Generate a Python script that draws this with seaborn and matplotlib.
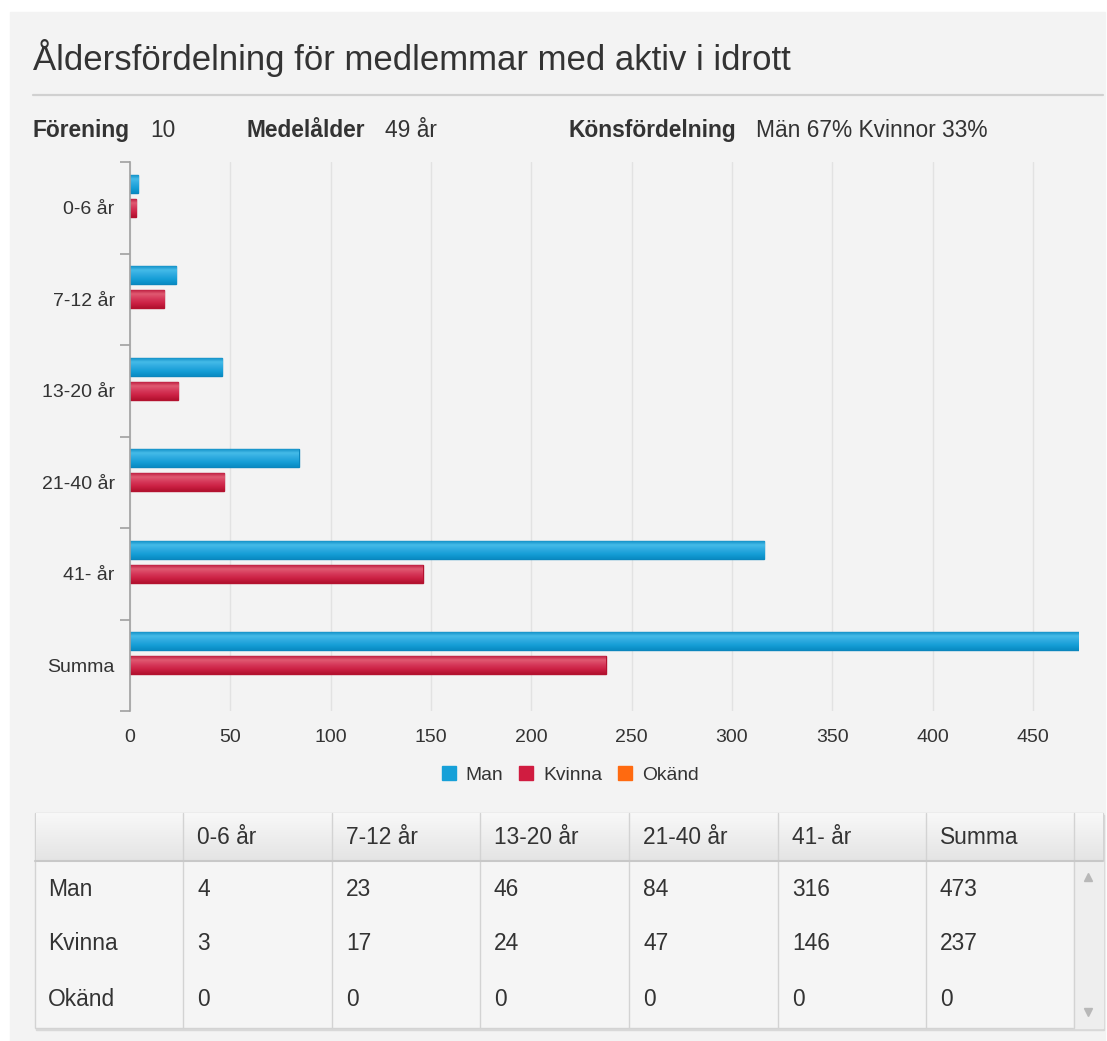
import numpy as np
import pandas as pd
import matplotlib
matplotlib.use('Agg')
import matplotlib.pyplot as plt
from matplotlib.patches import Rectangle
from matplotlib.colors import LinearSegmentedColormap
import seaborn as sns

# chart data
categories = ['0-6 år', '7-12 år', '13-20 år', '21-40 år', '41- år', 'Summa']
genders = ['Man', 'Kvinna', 'Okänd']
man = [4, 23, 46, 84, 316, 473]
kvinna = [3, 17, 24, 47, 146, 237]
okand = [0, 0, 0, 0, 0, 0]
x_ticks = [0, 50, 100, 150, 200, 250, 300, 350, 400, 450]

title = 'Åldersfördelning för medlemmar med aktiv i idrott'
info_labels = ['Förening', 'Medelålder', 'Könsfördelning']
info_values = ['10', '49 år', 'Män 67% Kvinnor 33%']

colors = {'Man': '#16a0d8', 'Kvinna': '#d01c40', 'Okänd': '#ff6a10'}
edges = {'Man': '#0b86bd', 'Kvinna': '#b3122f', 'Okänd': '#d95500'}
# vertical shading of the bars (top -> bottom)
shades = {
    'Man': ['#0b8ac2', '#45bbe8', '#2eaae0', '#159ed6', '#0a8cc4'],
    'Kvinna': ['#b9163a', '#e05a72', '#d6395a', '#cc2144', '#b3122f'],
    'Okänd': ['#d95500', '#ff8a40', '#ff6a10', '#f06000', '#d95500'],
}
text_color = '#333333'

W, H = 1107, 1041

df = pd.DataFrame({
    'Åldersgrupp': categories * len(genders),
    'Kön': np.repeat(genders, len(categories)),
    'Antal': man + kvinna + okand,
})

sns.set_theme(style='white')
plt.rcParams['font.family'] = ['Liberation Sans', 'DejaVu Sans']

fig = plt.figure(figsize=(W / 100, H / 100), dpi=100)
fig.patch.set_facecolor('white')

# background layer in pixel coordinates (panel, title, info row, table)
bg = fig.add_axes([0, 0, 1, 1], zorder=0)
bg.axis('off')
bg.add_patch(Rectangle((10, 12), W - 12, H, color='#f3f3f3', zorder=0))

bg.text(33, 70, title, fontsize=25, color=text_color, va='baseline')
bg.plot([33, 1103], [95, 95], color='#d0d0d0', lw=1.6)

label_x = [33, 247, 569]
value_x = [150, 385, 756]
for lx, vx, lab, val in zip(label_x, value_x, info_labels, info_values):
    bg.text(lx, 137, lab, fontsize=16.4, fontweight='bold', color=text_color, va='baseline')
    bg.text(vx, 137, val, fontsize=16.4, color=text_color, va='baseline')

# table
col_edges = [35, 183, 332, 480, 629, 778, 926, 1074, 1103]
t_top, t_head, t_bot = 813, 861, 1028
t_left, t_right = col_edges[0], col_edges[-1]
bg.add_patch(Rectangle((t_left + 1, t_top + 2), t_right - t_left, t_bot - t_top,
                       color='#d8d8d8', zorder=1))
bg.add_patch(Rectangle((t_left, t_top), t_right - t_left, t_bot - t_top,
                       fc='#f5f5f5', ec='#d3d3d3', lw=1, zorder=2))
head_cmap = LinearSegmentedColormap.from_list('head', ['#f8f8f8', '#e4e4e4'])
bg.imshow(np.linspace(0, 1, 50).reshape(-1, 1), cmap=head_cmap, aspect='auto',
          extent=(t_left + 0.5, t_right - 0.5, t_head, t_top + 0.5), zorder=3)
bg.add_patch(Rectangle((col_edges[-2], t_head), t_right - col_edges[-2] - 0.5,
                       t_bot - t_head - 0.5, color='#eeeeee', zorder=3))
for x in col_edges[1:-1]:
    bg.plot([x, x], [t_top, t_bot], color='#d3d3d3', lw=1, zorder=4)
bg.plot([t_left, t_right], [t_head, t_head], color='#c8c8c8', lw=1.5, zorder=4)
bg.plot(1088, 877, marker='^', ms=6, color='#b8b8b8', zorder=5)
bg.plot(1088, 1012, marker='v', ms=6, color='#b8b8b8', zorder=5)

for x, cat in zip(col_edges[1:-2], categories):
    bg.text(x + 14, 838, cat, fontsize=16.4, color=text_color, va='center', zorder=5)
row_y = [889, 943, 999]
for y, g, vals in zip(row_y, genders, [man, kvinna, okand]):
    bg.text(48, y, g, fontsize=16.4, color=text_color, va='center', zorder=5)
    for x, v in zip(col_edges[1:-2], vals):
        bg.text(x + 14, y, str(v), fontsize=16.4, color=text_color, va='center', zorder=5)

bg.set_xlim(0, W)
bg.set_ylim(H, 0)

# bar chart
ax = fig.add_axes([130 / W, 1 - 711 / H, 949 / W, 549 / H], zorder=1)
ax.patch.set_alpha(0)
sns.barplot(data=df, y='Åldersgrupp', x='Antal', hue='Kön', hue_order=genders,
            order=categories, palette=colors, orient='h', width=0.787, gap=0.25,
            saturation=1, linewidth=1, ax=ax)

grad = np.linspace(0, 1, 40).reshape(-1, 1)
for cont, g in zip(ax.containers, genders):
    cmap = LinearSegmentedColormap.from_list(g, shades[g])
    for bar in cont:
        if bar.get_width() <= 0:
            bar.set_linewidth(0)
            bar.set_visible(False)
            continue
        bar.set_edgecolor(edges[g])
        x0, y0 = bar.get_x(), bar.get_y()
        w, h = bar.get_width(), bar.get_height()
        im = ax.imshow(grad, cmap=cmap, aspect='auto', interpolation='bilinear',
                       extent=(x0, x0 + w, y0 + h, y0), zorder=bar.get_zorder() + 0.1)
        im.set_clip_path(bar)

ax.set_xlim(0, 473)
ax.set_ylim(len(categories) - 0.5, -0.5)
ax.set_xticks(x_ticks)
ax.tick_params(axis='x', bottom=False, length=0, pad=13, labelsize=14, labelcolor=text_color)
ax.grid(axis='x', color='#e2e2e2', lw=1)
ax.grid(axis='y', visible=False)
ax.set_axisbelow(True)
for s in ['top', 'right', 'bottom']:
    ax.spines[s].set_visible(False)
ax.spines['left'].set_color('#a0a0a0')
ax.spines['left'].set_linewidth(1.2)
ax.spines['left'].set_zorder(5)

ax.set_yticks(np.arange(len(categories) + 1) - 0.5)
ax.set_yticklabels([])
ax.set_yticks(np.arange(len(categories)), categories, minor=True)
ax.tick_params(axis='y', which='major', left=True, length=7, width=1.2, color='#a0a0a0')
ax.tick_params(axis='y', which='minor', left=True, labelleft=True, length=0, pad=11,
               labelsize=14, labelcolor=text_color)
ax.set_xlabel('')
ax.set_ylabel('')

sns.move_legend(ax, 'center', bbox_to_anchor=(570 / W, 1 - 775 / H),
                bbox_transform=fig.transFigure, ncol=3, frameon=False, title=None,
                fontsize=13.9, handlelength=0.75, handleheight=0.75,
                handletextpad=0.5, columnspacing=0.8)
leg = ax.get_legend()
for h, g in zip(leg.legend_handles, genders):
    h.set_facecolor(colors[g])
    h.set_edgecolor(colors[g])
    h.set_visible(True)
for t in leg.get_texts():
    t.set_color(text_color)

fig.savefig('out.png', dpi=100, facecolor=fig.get_facecolor())
